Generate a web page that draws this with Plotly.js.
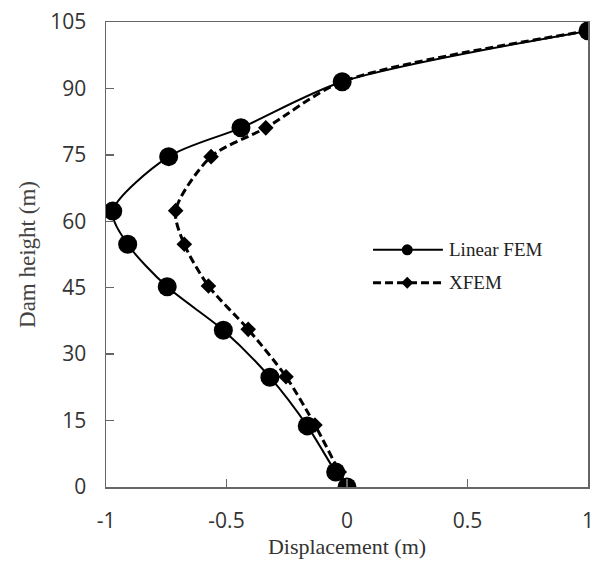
<!DOCTYPE html>
<html>
<head>
<meta charset="utf-8">
<script src="https://cdn.plot.ly/plotly-3.0.1.min.js"></script>
<style>html,body{margin:0;padding:0;background:#fff;}#chart{width:600px;height:563px;}</style>
</head>
<body>
<div id="chart"></div>
<script>
const heightFEM = [103, 91.5, 81.1, 74.6, 62.3, 54.8, 45.2, 35.4, 24.8, 13.8, 3.4, 0];
const dispFEM   = [1.0, -0.02, -0.44, -0.74, -0.972, -0.91, -0.746, -0.513, -0.32, -0.165, -0.047, 0.0];
const heightXFEM = [103, 91.5, 81.1, 74.6, 62.4, 54.8, 45.4, 35.6, 24.9, 14.0, 3.4, 0];
const dispXFEM   = [1.0, -0.02, -0.337, -0.564, -0.711, -0.675, -0.575, -0.41, -0.253, -0.133, -0.032, 0.0];
const seriesNames = ['Linear FEM', 'XFEM'];
const xTicks = [-1, -0.5, 0, 0.5, 1];
const yTicks = [0, 15, 30, 45, 60, 75, 90, 105];

const serif = 'Liberation Serif, Times New Roman, serif';
const sans = 'Open Sans, DejaVu Sans, sans-serif';

const traces = [
  {x: dispFEM, y: heightFEM, name: seriesNames[0], mode: 'lines+markers', type: 'scatter',
   line: {color: '#000', width: 2, shape: 'spline', smoothing: 0.8},
   marker: {symbol: 'circle', size: 19, color: '#000'}},
  {x: dispXFEM, y: heightXFEM, name: seriesNames[1], mode: 'lines+markers', type: 'scatter',
   line: {color: '#000', width: 3, dash: '8px,4px', shape: 'spline', smoothing: 0.8},
   marker: {symbol: 'diamond', size: 12, color: '#000'}}
];

// manual legend (long sample lines like the original)
const legY = [0.51, 0.439];
const legX0 = 0.554, legX1 = 0.699, legXm = 0.625, legXt = 0.708;
const shapes = [
  {type: 'line', xref: 'paper', yref: 'paper', x0: legX0, x1: legX1, y0: legY[0], y1: legY[0], line: {color: '#000', width: 2}},
  {type: 'circle', xref: 'paper', yref: 'paper', xsizemode: 'pixel', ysizemode: 'pixel', xanchor: legXm, yanchor: legY[0],
   x0: -5.5, x1: 5.5, y0: -5.5, y1: 5.5, fillcolor: '#000', line: {color: '#000', width: 0}},
  {type: 'line', xref: 'paper', yref: 'paper', x0: legX0, x1: legX1, y0: legY[1], y1: legY[1], line: {color: '#000', width: 3, dash: '8px,4px'}},
  {type: 'path', xref: 'paper', yref: 'paper', xsizemode: 'pixel', ysizemode: 'pixel', xanchor: legXm, yanchor: legY[1],
   path: 'M -6 0 L 0 6 L 6 0 L 0 -6 Z', fillcolor: '#000', line: {color: '#000', width: 0}}
];
const annotations = seriesNames.map((n, i) => ({
  text: n, xref: 'paper', yref: 'paper', x: legXt, y: legY[i], xanchor: 'left', yanchor: 'middle',
  showarrow: false, font: {family: serif, size: 19, color: '#222'}
}));

const axisCommon = {showgrid: false, zeroline: false, showline: true, linecolor: '#666', linewidth: 1.5,
  mirror: true, ticks: 'inside', ticklen: 8, tickcolor: '#666', tickwidth: 1.5, ticklabelstandoff: 14,
  tickfont: {family: sans, size: 21, color: '#333'}};
const layout = {
  width: 600, height: 563,
  margin: {l: 106, r: 12, t: 22, b: 76},
  paper_bgcolor: '#fff', plot_bgcolor: '#fff',
  showlegend: false,
  shapes: shapes, annotations: annotations,
  xaxis: Object.assign({}, axisCommon, {range: [-1, 1], tickvals: xTicks, ticktext: xTicks.map(String),
    title: {text: 'Displacement (m)', font: {family: serif, size: 22, color: '#333'}, standoff: 6}}),
  yaxis: Object.assign({}, axisCommon, {range: [0, 105], tickvals: yTicks, ticktext: yTicks.map(String),
    title: {text: 'Dam height (m)', font: {family: serif, size: 23, color: '#444'}, standoff: 8}})
};
Plotly.newPlot('chart', traces, layout, {displayModeBar: false, staticPlot: true});
</script>
</body>
</html>
